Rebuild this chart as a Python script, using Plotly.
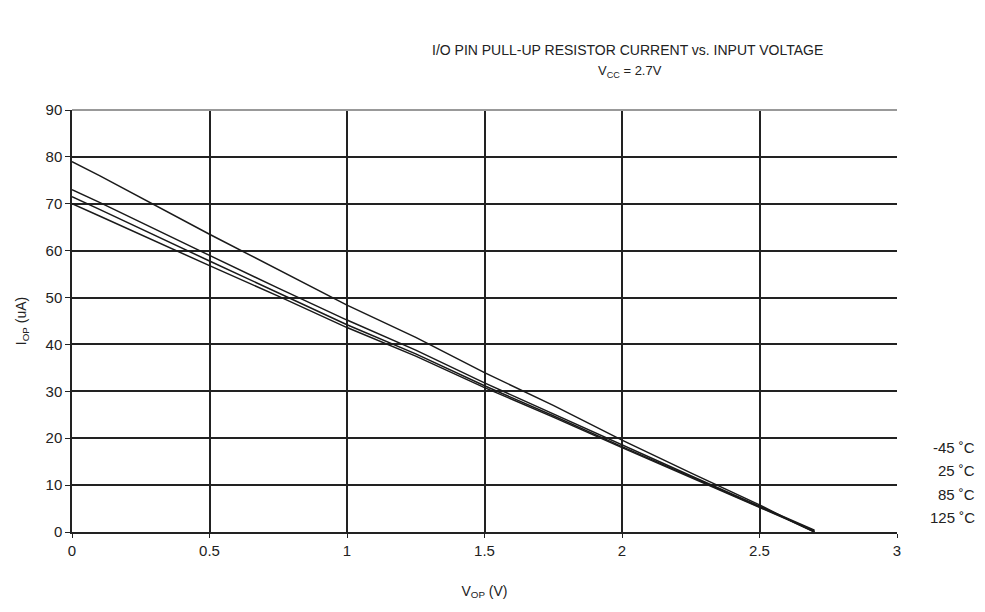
import plotly.graph_objects as go

voltage = [0, 0.1, 0.5, 0.75, 1.0, 1.25, 1.5, 1.75, 2.0, 2.25, 2.5, 2.6, 2.7]
i_m45 = [79, 76, 63.5, 56, 48.4, 41.5, 34, 27, 19.6, 12.6, 5.8, 2.8, 0.0]
i_25 = [73, 70.3, 59, 52, 45.2, 38.8, 31.8, 25.2, 18.5, 12.0, 5.5, 3.0, 0.4]
i_85 = [71.5, 68.8, 57.8, 51, 44.2, 38.0, 31.2, 24.8, 18.2, 11.8, 5.4, 2.9, 0.2]
i_125 = [70, 67.4, 56.8, 50.3, 43.6, 37.5, 30.8, 24.5, 18.0, 11.6, 5.3, 2.7, 0.0]
series_names = ["-45 ˚C", "25 ˚C", "85 ˚C", "125 ˚C"]
x_ticks = [0, 0.5, 1, 1.5, 2, 2.5, 3]
y_ticks = [0, 10, 20, 30, 40, 50, 60, 70, 80, 90]

FONT = "Arial, Liberation Sans, sans-serif"
fig = go.Figure()
for name, ys in zip(series_names, [i_m45, i_25, i_85, i_125]):
    fig.add_trace(go.Scatter(x=voltage, y=ys, mode="lines", name=name,
                             line=dict(color="#1a1a1a", width=1.5), showlegend=False))

# page body has an 8px margin: plot area should land at x 70..897, y 110..532 on screen
fig.update_layout(
    width=985, height=612,
    margin=dict(l=62, r=96, t=102, b=88),
    paper_bgcolor="white", plot_bgcolor="white",
    font=dict(family=FONT, color="#222222", size=14),
    xaxis=dict(range=[0, 3], tickvals=x_ticks, ticktext=[str(v) for v in x_ticks],
               showgrid=True, gridcolor="#222222", gridwidth=1.5,
               zeroline=False, showline=True, linecolor="#222222", linewidth=1.5,
               ticks="outside", ticklen=4, tickcolor="#222222",
               tickfont=dict(size=15),
               title=dict(text="V<sub>OP</sub> (V)", standoff=28, font=dict(size=14))),
    yaxis=dict(range=[0, 90], tickvals=y_ticks,
               showgrid=True, gridcolor="#222222", gridwidth=1.5,
               zeroline=False, showline=True, linecolor="#222222", linewidth=1.5,
               ticks="outside", ticklen=5, tickcolor="#222222",
               tickfont=dict(size=15),
               title=dict(text="I<sub>OP</sub> (uA)", standoff=16, font=dict(size=14))),
)
# top border line (gray)
fig.add_shape(type="line", xref="paper", yref="paper", x0=0, x1=1, y0=1, y1=1,
              line=dict(color="#999999", width=2))

fig.add_annotation(text="I/O PIN PULL-UP RESISTOR CURRENT vs. INPUT VOLTAGE",
                   xref="paper", yref="paper", x=(627 - 70) / 827, y=1.0, yshift=60,
                   showarrow=False, font=dict(size=14, family=FONT, color="#222222"),
                   xanchor="center", yanchor="middle")
fig.add_annotation(text="V<sub>CC</sub> = 2.7V",
                   xref="paper", yref="paper", x=(629 - 70) / 827, y=1.0, yshift=39,
                   showarrow=False, font=dict(size=13, family=FONT, color="#222222"),
                   xanchor="center", yanchor="middle")

legend_y_px = [447, 470, 494, 517]
for name, py in zip(series_names, legend_y_px):
    fig.add_annotation(text=name, xref="paper", yref="paper",
                       x=(977 - 70) / 827, y=(532 - py) / 422,
                       showarrow=False, xanchor="right", yanchor="middle",
                       font=dict(size=15, family=FONT, color="#222222"))

fig.write_html("out.html")
